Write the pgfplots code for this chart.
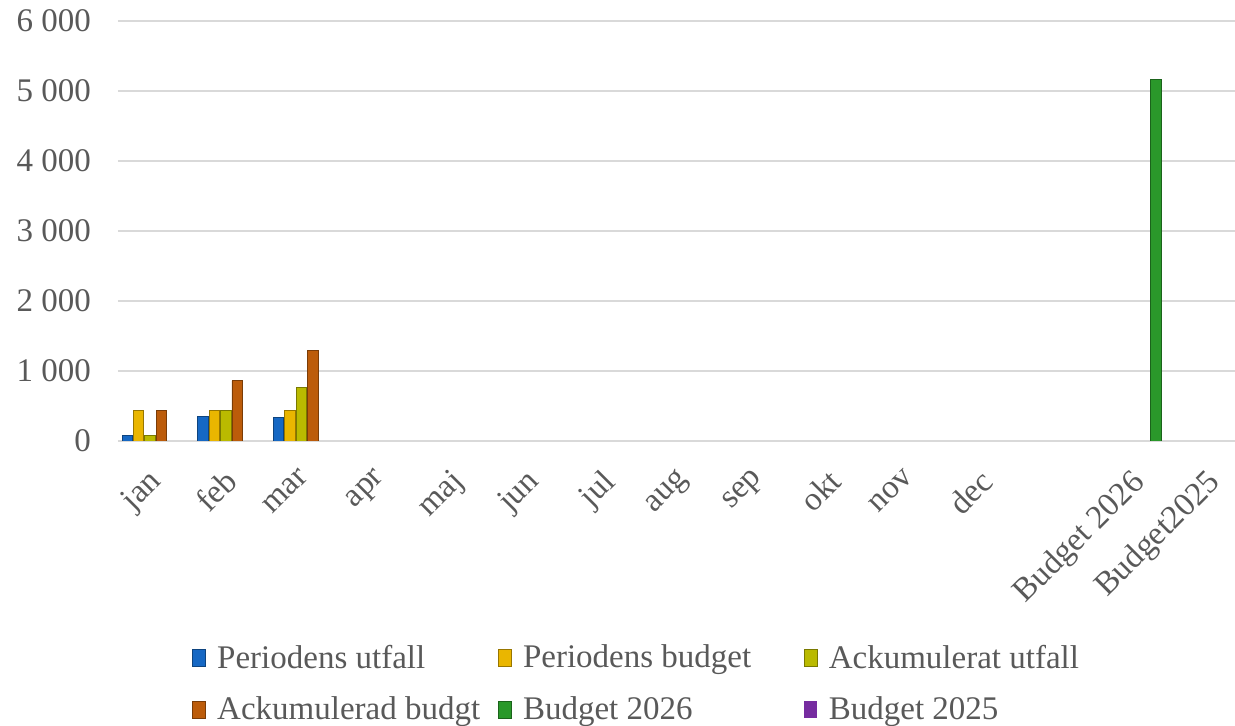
\documentclass[border=0pt]{standalone}
\usepackage{pgfplots}
\pgfplotsset{compat=1.18}
\usepackage{fontspec}
\setmainfont{Liberation Serif}

\definecolor{txt}{RGB}{89,89,89}
\definecolor{gridc}{RGB}{217,217,217}
\definecolor{cblue}{RGB}{22,104,196}
\definecolor{cgold}{RGB}{234,182,0}
\definecolor{colive}{RGB}{186,186,0}
\definecolor{cbrown}{RGB}{188,92,10}
\definecolor{cgreen}{RGB}{42,152,42}
\definecolor{cpurple}{RGB}{118,44,160}

\newcommand{\chartfont}{\fontsize{16.5}{19}\selectfont}

\pgfplotsset{
  bevel/.style={fill=#1, draw=#1!65!black, line width=0.4pt}
}

\begin{document}
\begin{tikzpicture}
\useasboundingbox (0,0) rectangle (617.5pt,363pt);
\begin{axis}[
  at={(59pt,142.5pt)}, anchor=south west,
  scale only axis,
  width=567pt, height=210pt,
  xmin=-0.5, xmax=14.5,
  ymin=0, ymax=6000,
  ybar=0.5pt, bar width=5.2pt,
  axis line style={draw=none},
  tick style={draw=none},
  ymajorgrids=true,
  grid style={gridc, line width=0.8pt},
  ytick={0,1000,2000,3000,4000,5000,6000},
  yticklabels={0,1 000,2 000,3 000,4 000,5 000,6 000},
  yticklabel style={font=\chartfont, text=txt, anchor=east, xshift=-10pt},
  xtick={0,1,2,3,4,5,6,7,8,9,10,11,12,13,14},
  xticklabels={jan,feb,mar,apr,maj,jun,jul,aug,sep,okt,nov,dec,{},Budget 2026,Budget2025},
  xticklabel style={font=\chartfont, text=txt, anchor=north east, xshift=-4.5pt, yshift=-4pt, rotate=45},
  legend columns=3,
  legend style={draw=none, fill=none, font=\chartfont, text=txt,
    at={(axis description cs:0.06,-0.47)}, anchor=north west,
    nodes={inner sep=1pt}, column sep=0pt, row sep=11pt},
  legend cell align=left,
  legend image code/.code={\path[#1] (0pt,-4pt) rectangle (6.5pt,4.5pt);},
]
\addplot[bevel=cblue] coordinates {(0,80) (1,350) (2,335)};
\addplot[bevel=cgold] coordinates {(0,430) (1,430) (2,430)};
\addplot[bevel=colive] coordinates {(0,80) (1,435) (2,765)};
\addplot[bevel=cbrown] coordinates {(0,430) (1,860) (2,1290)};
\addplot[bevel=cgreen] coordinates {(13,5160)};
\addplot[bevel=cpurple, draw=none] coordinates {(14,0)};
\legend{\hspace{4.5pt}\makebox[139.5pt][l]{Periodens utfall},\hspace{4.5pt}\makebox[139.5pt][l]{Periodens budget},\hspace{4.5pt}\makebox[139.5pt][l]{Ackumulerat utfall},
  \hspace{4.5pt}\makebox[139.5pt][l]{Ackumulerad budgt},\hspace{4.5pt}\makebox[139.5pt][l]{Budget 2026},\hspace{4.5pt}\makebox[139.5pt][l]{Budget 2025}}
\end{axis}
\end{tikzpicture}
\end{document}
